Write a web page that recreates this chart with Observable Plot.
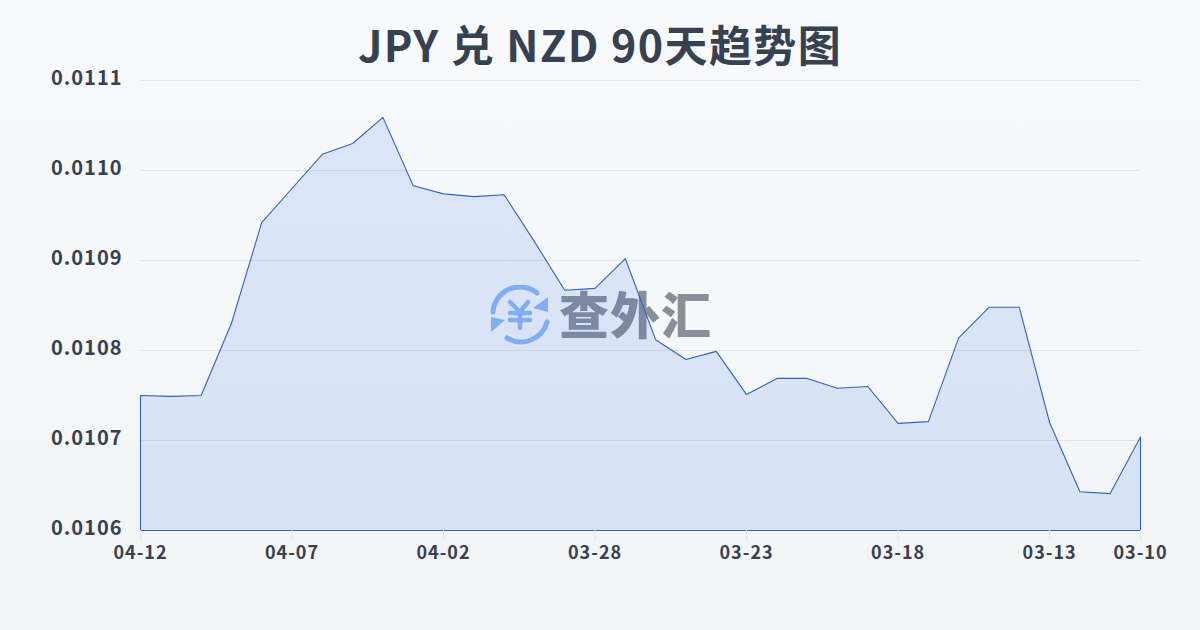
<!DOCTYPE html>
<html lang="zh">
<head>
<meta charset="utf-8">
<script src="https://cdn.jsdelivr.net/npm/d3@7"></script>
<script src="https://cdn.jsdelivr.net/npm/@observablehq/plot@0.6"></script>
<style>
html,body{margin:0;padding:0;width:1200px;height:630px;overflow:hidden}
body{position:relative;background:linear-gradient(180deg,#f8fafc 0%,#f2f4f6 100%);font-family:"Noto Sans CJK SC",sans-serif}
#title{position:absolute;left:0;top:13px;width:1200px;text-align:center;font-size:43px;line-height:60px;font-weight:700;letter-spacing:1.4px;color:#374151;font-family:"Noto Sans CJK SC",sans-serif}
#wm{position:absolute;left:488px;top:282px;width:230px;height:62px}
#wm svg{position:absolute;left:0;top:3px}
#wm span{position:absolute;left:71px;top:-1px;font-size:50px;line-height:62px;font-weight:900;color:#8a8e98;font-family:"Noto Sans CJK SC",sans-serif;white-space:nowrap;letter-spacing:1px}
#chart{position:absolute;left:0;top:0}
#chart svg{background:transparent}
#chart text{letter-spacing:1px}
</style>
</head>
<body>
<div id="wm">
<svg width="62" height="60" viewBox="0 0 62 60" fill="none" stroke="#8fb8f8">
<path d="M5 27 A27 27 0 0 1 49 8" stroke-width="5" stroke-linecap="round"/>
<path d="M59 37 A27 27 0 0 1 19 53" stroke-width="5" stroke-linecap="round"/>
<path d="M60 12 L60 27 L45 23 Z" fill="#8fb8f8" stroke="none"/>
<path d="M3 32 L3 47 L17 35 Z" fill="#8fb8f8" stroke="none"/>
<path d="M22 17 L32 27 L40 17 M22 28 H42 M22 35 H42 M32 27 V43" stroke-width="4.5" stroke-linecap="round" stroke-linejoin="round"/>
</svg>
<span>查外汇</span>
</div>
<div id="title">JPY 兑 NZD 90天趋势图</div>
<div id="chart"></div>
<script>
const dates = ["04-12","04-11","04-10","04-09","04-08","04-07","04-06","04-05","04-04","04-03","04-02","04-01","03-31","03-30","03-29","03-28","03-27","03-26","03-25","03-24","03-23","03-22","03-21","03-20","03-19","03-18","03-17","03-16","03-15","03-14","03-13","03-12","03-11","03-10"];
const rates = [0.01075,0.010749,0.01075,0.01083,0.010942,0.01098,0.011018,0.01103,0.011059,0.010983,0.010974,0.010971,0.010973,0.010921,0.010867,0.010869,0.010902,0.010812,0.01079,0.010799,0.010751,0.010769,0.010769,0.010758,0.01076,0.010719,0.010721,0.010814,0.010848,0.010848,0.01072,0.010643,0.010641,0.010704];
const xTicks = ["04-12","04-07","04-02","03-28","03-23","03-18","03-13","03-10"];
const yTicks = [0.0106,0.0107,0.0108,0.0109,0.011,0.0111];
const yFloor = 0.0106;
const rows = dates.map((d,i)=>({date:d,rate:rates[i]}));

const plot = Plot.plot({
  width:1200,height:630,
  marginLeft:140,marginRight:60,marginTop:80,marginBottom:100,
  style:{background:"transparent",fontFamily:'"Noto Sans CJK SC",sans-serif'},
  x:{type:"point",domain:dates,padding:0,round:false,label:null},
  y:{domain:[0.0106,0.0111],label:null},
  marks:[
    Plot.ruleY(yTicks.slice(1),{stroke:"#d5dae3",strokeOpacity:.6,strokeWidth:1}),
    Plot.area(rows,{x1:"date",y1:()=>yFloor,y2:"rate",dx:.5,dy:.5,fill:"#2563eb",fillOpacity:.13,stroke:"#2f62c6",strokeWidth:1.1}),
    Plot.axisX(xTicks,{anchor:"bottom",tickSize:10,tickPadding:6,stroke:"#e3e6eb",fontSize:18,fontWeight:700,fill:"#374151",label:null}),
    Plot.axisY(yTicks,{anchor:"left",tickSize:0,tickPadding:18,fontSize:20,fontWeight:700,fill:"#374151",dy:-1.5,label:null,tickFormat:d3.format(".4f")})
  ]
});
document.getElementById("chart").appendChild(plot);
</script>
</body>
</html>
